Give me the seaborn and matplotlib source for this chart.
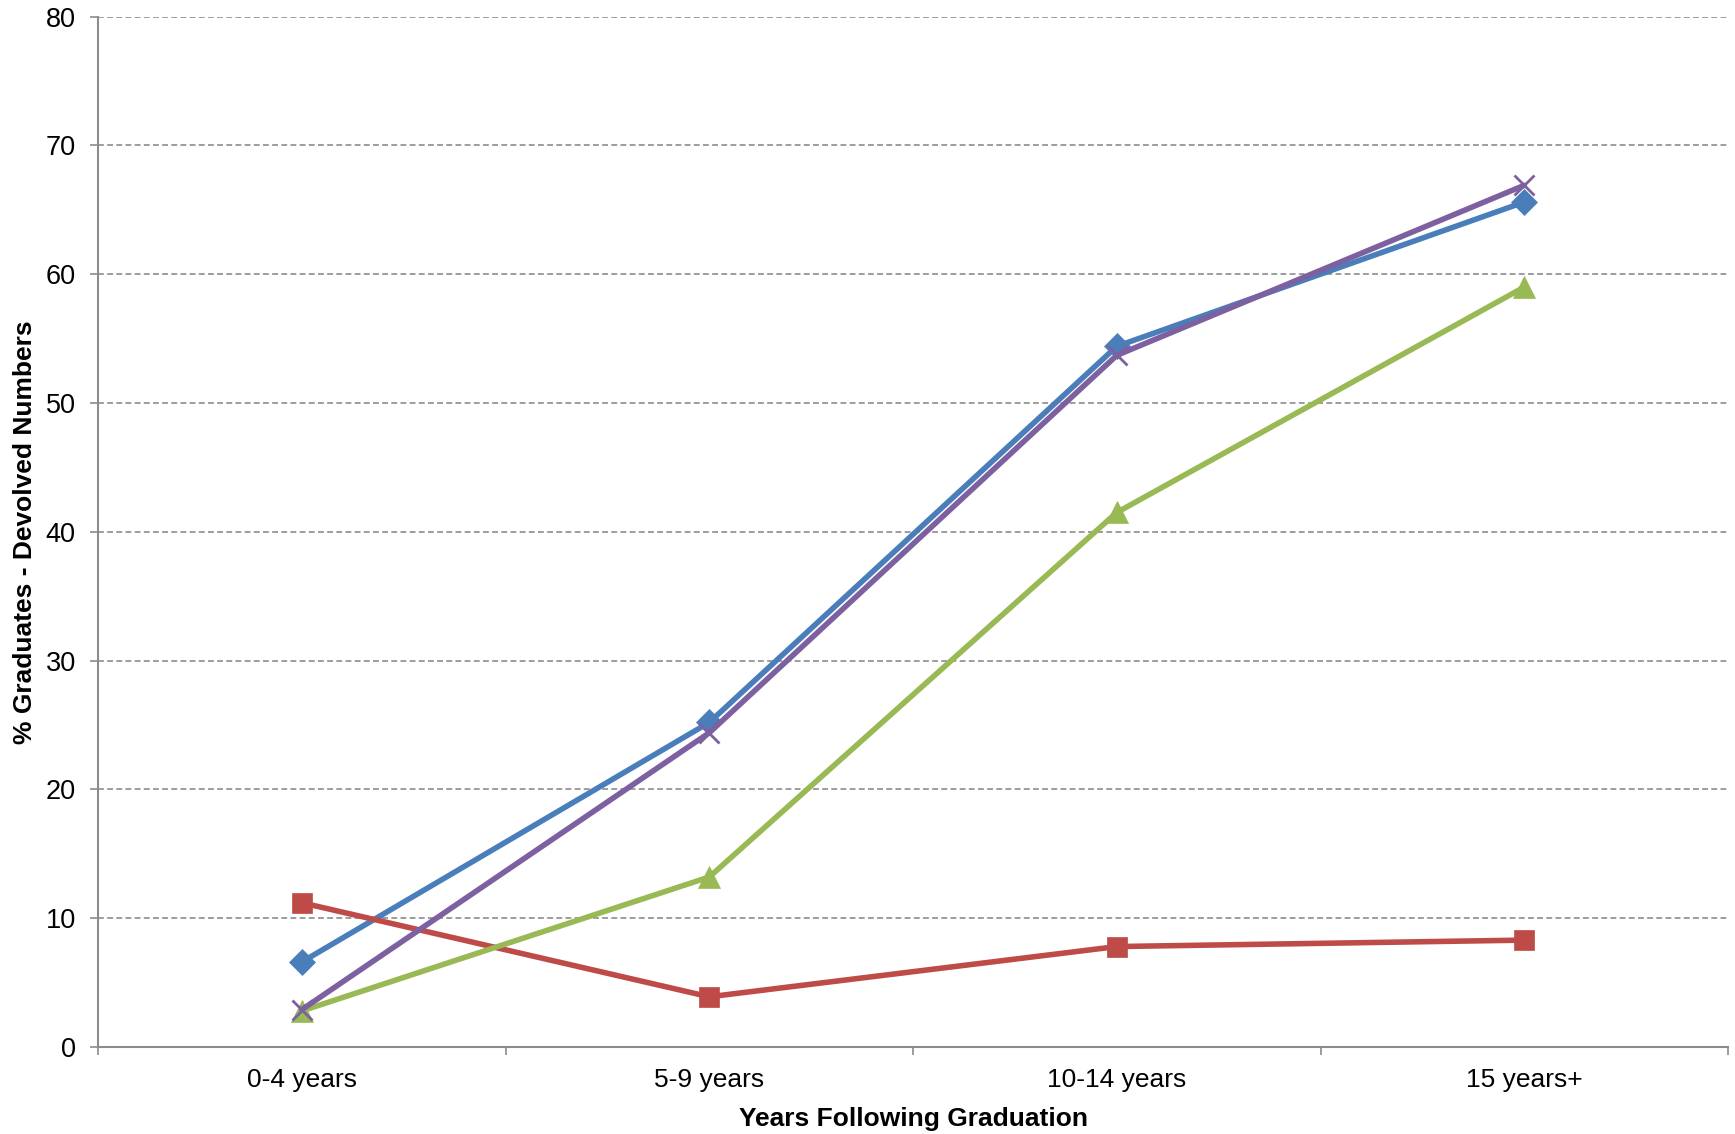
import matplotlib
matplotlib.use("Agg")
import matplotlib.pyplot as plt
import seaborn as sns
import pandas as pd

categories = ["0-4 years", "5-9 years", "10-14 years", "15 years+"]
series_blue = [6.6, 25.2, 54.4, 65.6]
series_red = [11.2, 3.9, 7.8, 8.3]
series_green = [2.8, 13.2, 41.5, 59.0]
series_purple = [2.9, 24.4, 53.7, 66.9]
y_ticks = [0, 10, 20, 30, 40, 50, 60, 70, 80]

sns.set_theme(style="white")
plt.rcParams['font.family'] = ['Liberation Sans', 'DejaVu Sans']
plt.rcParams['text.color'] = 'black'
plt.rcParams['axes.labelcolor'] = 'black'

fig = plt.figure(figsize=(17.35, 11.34), dpi=100)
ax = fig.add_axes([0.0565, 0.0767, 0.9395, 0.9087])

styles = [
    (series_blue, "#4A7EBB", "D", 13, 4.0),
    (series_red, "#BE4B48", "s", 14, 4.0),
    (series_green, "#98B954", "^", 16, 4.0),
    (series_purple, "#7D60A0", "x", 15, 4.0),
]
for vals, col, mk, ms, lw in styles:
    df = pd.DataFrame({"cat": categories, "val": vals})
    sns.lineplot(data=df, x="cat", y="val", ax=ax, color=col, marker=mk,
                 markersize=ms, linewidth=lw, markeredgecolor=col,
                 markeredgewidth=2 if mk == "x" else 0.5, sort=False)

ax.set_xlim(-0.5, len(categories) - 0.5)
ax.set_ylim(0, 80)
ax.set_yticks(y_ticks)
ax.yaxis.grid(True, linestyle=(0, (3.5, 2)), color="#8C8C8C", linewidth=1.2)
ax.xaxis.grid(False)
for s in ["top", "right"]:
    ax.spines[s].set_visible(False)
for s in ["left", "bottom"]:
    ax.spines[s].set_color("#8C8C8C")
    ax.spines[s].set_linewidth(1.5)

ax.set_xticks(range(len(categories)))
ax.set_xticklabels(categories)
ax.set_xticks([i - 0.5 for i in range(len(categories) + 1)], minor=True)
ax.tick_params(axis="x", which="major", length=0, pad=15, labelsize=19, labelcolor="black")
ax.tick_params(axis="x", which="minor", length=6, width=1.2, color="#8C8C8C", bottom=True)
ax.tick_params(axis="y", which="major", length=6, width=1.2, color="#8C8C8C", left=True,
               pad=10, labelsize=19.5, labelcolor="black")

ax.set_xlabel("Years Following Graduation", fontsize=19, fontweight="bold", labelpad=11)
ax.set_ylabel("% Graduates - Devolved Numbers", fontsize=19, fontweight="bold", labelpad=6)

fig.savefig("out.png", dpi=100)
